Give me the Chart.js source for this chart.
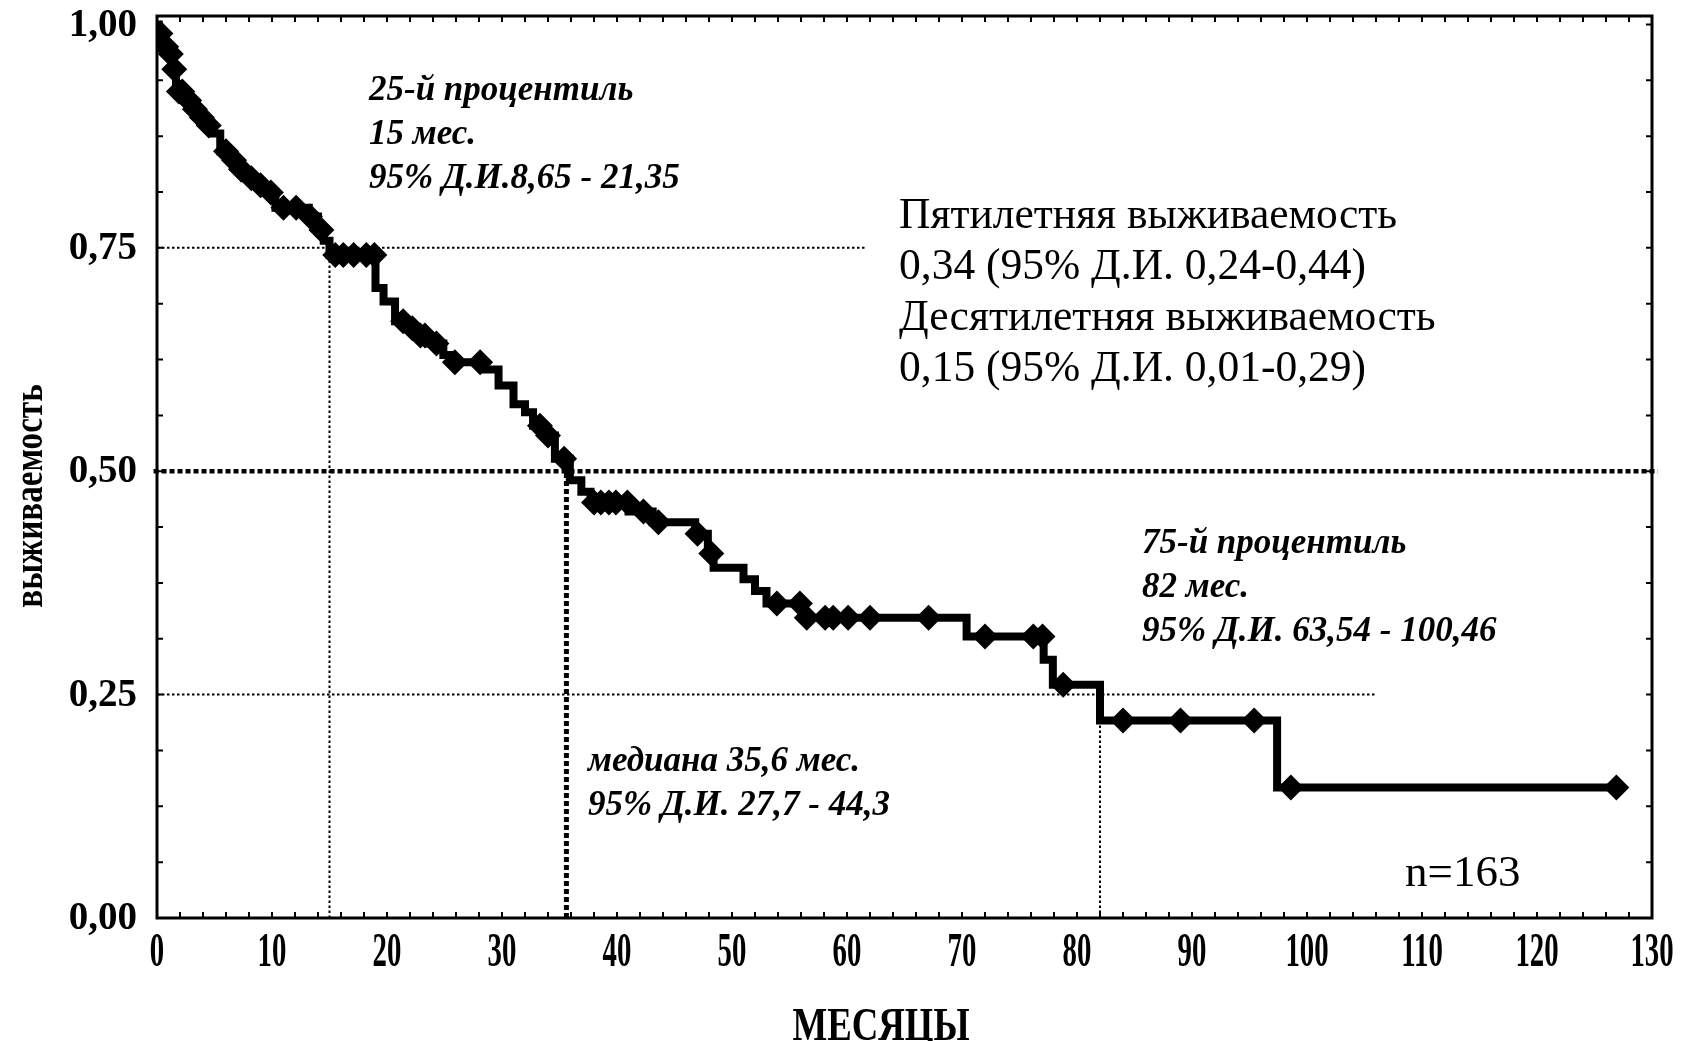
<!DOCTYPE html>
<html>
<head>
<meta charset="utf-8">
<script src="https://cdn.jsdelivr.net/npm/chart.js@4.4.1/dist/chart.umd.min.js"></script>
<style>
    html, body { margin: 0; padding: 0; background: #fff; }
    canvas { display: block; }
</style>
</head>
<body>
<canvas id="chartKM" width="1682" height="1041"></canvas>
<script>
// Kaplan-Meier: month of each drop and survival right after it
const stepMonths = [0.15, 0.35, 0.6, 0.95, 1.3, 1.65, 2.4, 3.0, 3.6, 4.2, 4.9, 5.5, 6.3, 7.0, 7.6, 8.6, 9.4, 10.3,
    13.2, 14.0, 14.5, 15.0, 19.0, 19.7, 20.7, 21.8, 22.7, 23.6, 24.9, 25.6, 28.3, 29.7, 31.0, 32.0, 32.7, 33.6,
    34.6, 35.9, 36.9, 37.7, 41.0, 43.1, 46.8, 47.9, 48.4, 51.0, 52.0, 53.0, 56.1, 70.4, 77.1, 77.9, 82.0, 97.4];
const stepSurvival = [0.99, 0.982, 0.975, 0.967, 0.95, 0.925, 0.915, 0.905, 0.896, 0.887, 0.878, 0.858, 0.848, 0.838,
    0.828, 0.82, 0.812, 0.795, 0.785, 0.77, 0.758, 0.742, 0.705, 0.69, 0.668, 0.66, 0.652, 0.643, 0.63, 0.622, 0.614,
    0.596, 0.575, 0.566, 0.551, 0.54, 0.514, 0.49, 0.477, 0.465, 0.455, 0.443, 0.43, 0.408, 0.392, 0.379, 0.366,
    0.352, 0.336, 0.315, 0.289, 0.261, 0.221, 0.146];
const lastMonth = 126.9;

// censored cases (diamonds)
const censorMonths = [0.3, 0.8, 1.2, 1.5, 1.9, 2.2, 2.8, 3.3, 3.9, 4.5, 6.0, 6.7, 7.3, 8.2, 9.0, 9.9, 11.0, 12.1,
    13.3, 14.3, 15.5, 16.2, 17.1, 18.2, 18.9, 21.4, 22.2, 22.9, 23.3, 24.3, 25.9, 28.1, 33.3, 34.0, 35.4, 38.0, 38.6,
    39.3, 39.9, 40.9, 42.3, 43.6, 47.0, 48.2, 53.9, 55.9, 56.5, 58.1, 58.8, 60.1, 62.0, 67.1, 72.0, 76.2, 77.0, 78.8,
    84.0, 89.0, 95.4, 98.6, 126.9];
const censorSurvival = [0.99, 0.975, 0.967, 0.95, 0.925, 0.925, 0.915, 0.905, 0.896, 0.887, 0.858, 0.848, 0.838,
    0.828, 0.82, 0.812, 0.795, 0.795, 0.785, 0.77, 0.742, 0.742, 0.742, 0.742, 0.742, 0.668, 0.66, 0.652, 0.652, 0.643,
    0.622, 0.622, 0.551, 0.54, 0.514, 0.465, 0.465, 0.465, 0.465, 0.465, 0.455, 0.443, 0.43, 0.408, 0.352, 0.352,
    0.336, 0.336, 0.336, 0.336, 0.336, 0.336, 0.315, 0.315, 0.315, 0.261, 0.221, 0.221, 0.221, 0.146, 0.146];

// quartiles: 25-й, медиана, 75-й
const quartileLevels = [0.75, 0.5, 0.25];
const quartileMonths = [15, 35.6, 82];

const xTickLabels = [0, 10, 20, 30, 40, 50, 60, 70, 80, 90, 100, 110, 120, 130];
const yTickLabels = [0, 0.25, 0.5, 0.75, 1];

const FONT = "'Liberation Serif', 'Times New Roman', serif";

const curve = [{ x: 0, y: 1 }];
stepMonths.forEach((m, i) => curve.push({ x: m, y: stepSurvival[i] }));
curve.push({ x: lastMonth, y: stepSurvival[stepSurvival.length - 1] });

const censored = censorMonths.map((m, i) => ({ x: m, y: censorSurvival[i] }));

// how far each horizontal quartile line runs, in months
const hLineEnds = [61.7, 130.5, 106];
const thinDot = { borderWidth: 2, borderDash: [2.5, 2.5] };
const thickDash = { borderWidth: 4.5, borderDash: [5, 3] };

const refLines = [];
quartileLevels.forEach((lvl, i) => {
    const style = lvl === 0.5 ? thickDash : thinDot;
    refLines.push({
        data: [{ x: lvl === 0.5 ? -0.3 : 0, y: lvl }, { x: hLineEnds[i], y: lvl }],
        ...style,
    });
    refLines.push({
        data: [{ x: quartileMonths[i], y: 0 }, { x: quartileMonths[i], y: lvl }],
        ...style,
        borderWidth: lvl === 0.5 ? 5 : 2,
    });
});

function drawText(ctx, text, px, py, opts) {
    ctx.save();
    ctx.translate(px, py);
    if (opts.rot) ctx.rotate(opts.rot);
    ctx.scale(opts.sx || 1, 1);
    ctx.font = opts.font;
    ctx.textAlign = opts.align || "left";
    ctx.textBaseline = opts.baseline || "alphabetic";
    ctx.fillStyle = "#000";
    ctx.fillText(text, 0, 0);
    ctx.restore();
}

const frameAndText = {
    id: "frameAndText",
    afterDraw(chart) {
        const { ctx, chartArea: a } = chart;
        const x = chart.scales.x;
        const y = chart.scales.y;

        ctx.save();
        ctx.strokeStyle = "#000";
        ctx.lineWidth = 3;
        ctx.strokeRect(a.left, a.top, a.right - a.left, a.bottom - a.top);

        // small inward ticks on all four sides
        ctx.lineWidth = 2;
        ctx.beginPath();
        for (let m = 0; m <= 130; m += 2) {
            const px = x.getPixelForValue(m);
            ctx.moveTo(px, a.bottom);
            ctx.lineTo(px, a.bottom - 6);
            ctx.moveTo(px, a.top);
            ctx.lineTo(px, a.top + 6);
        }
        for (let k = 0; k <= 16; k++) {
            const py = y.getPixelForValue(k * 0.0625);
            ctx.moveTo(a.left, py);
            ctx.lineTo(a.left + 6, py);
            ctx.moveTo(a.right, py);
            ctx.lineTo(a.right - 6, py);
        }
        ctx.stroke();
        ctx.restore();

        // tick labels
        yTickLabels.forEach((v) => {
            drawText(ctx, v.toFixed(2).replace(".", ","), a.left - 20, y.getPixelForValue(v) + 1, {
                font: "bold 39px " + FONT, align: "right", baseline: "middle",
            });
        });
        xTickLabels.forEach((v) => {
            drawText(ctx, String(v), x.getPixelForValue(v), a.bottom + 48, {
                font: "bold 48px " + FONT, align: "center", baseline: "alphabetic", sx: 0.6,
            });
        });

        // axis titles
        drawText(ctx, "МЕСЯЦЫ", 881, 1040, { font: "bold 46px " + FONT, align: "center", sx: 0.8 });
        drawText(ctx, "выживаемость", 42, 496, {
            font: "bold 39px " + FONT, align: "center", rot: -Math.PI / 2, sx: 0.85,
        });

        // annotations
        const bi = "italic bold 35px " + FONT;
        drawText(ctx, "25-й процентиль", 369, 100, { font: bi });
        drawText(ctx, "15 мес.", 369, 144, { font: bi });
        drawText(ctx, "95% Д.И.8,65 - 21,35", 369, 188, { font: bi });

        drawText(ctx, "75-й процентиль", 1142, 553, { font: bi });
        drawText(ctx, "82 мес.", 1142, 597, { font: bi });
        drawText(ctx, "95% Д.И. 63,54 - 100,46", 1142, 641, { font: bi });

        drawText(ctx, "медиана 35,6 мес.", 588, 771, { font: bi });
        drawText(ctx, "95% Д.И. 27,7 - 44,3", 588, 815, { font: bi });

        const rg = "43.5px " + FONT;
        drawText(ctx, "Пятилетняя выживаемость", 899, 228, { font: rg });
        drawText(ctx, "0,34 (95% Д.И. 0,24-0,44)", 899, 279, { font: rg });
        drawText(ctx, "Десятилетняя выживаемость", 899, 330, { font: rg });
        drawText(ctx, "0,15 (95% Д.И. 0,01-0,29)", 899, 381, { font: rg });

        drawText(ctx, "n=163", 1405, 886, { font: "45px " + FONT });
    },
};

new Chart(document.getElementById("chartKM").getContext("2d"), {
    type: "line",
    data: {
        datasets: [
            {
                label: "censored",
                type: "scatter",
                data: censored,
                pointStyle: "rectRot",
                pointRadius: 13,
                pointBackgroundColor: "#000",
                pointBorderWidth: 0,
                showLine: false,
                order: 0,
            },
            {
                label: "survival",
                data: curve,
                stepped: "before",
                borderColor: "#000",
                borderWidth: 8,
                borderJoinStyle: "miter",
                pointRadius: 0,
                order: 1,
            },
            ...refLines.map((r) => ({
                data: r.data,
                borderColor: "#000",
                borderWidth: r.borderWidth,
                borderDash: r.borderDash,
                pointRadius: 0,
                clip: false,
                order: 2,
            })),
        ],
    },
    options: {
        responsive: false,
        animation: false,
        events: [],
        layout: {
            autoPadding: false,
            padding: { left: 157, right: 30, top: 16, bottom: 123 },
        },
        scales: {
            x: { type: "linear", min: 0, max: 130, display: false },
            y: { type: "linear", min: 0, max: 1.0095, display: false },
        },
        plugins: {
            legend: { display: false },
            tooltip: { enabled: false },
        },
    },
    plugins: [frameAndText],
});
</script>
</body>
</html>
